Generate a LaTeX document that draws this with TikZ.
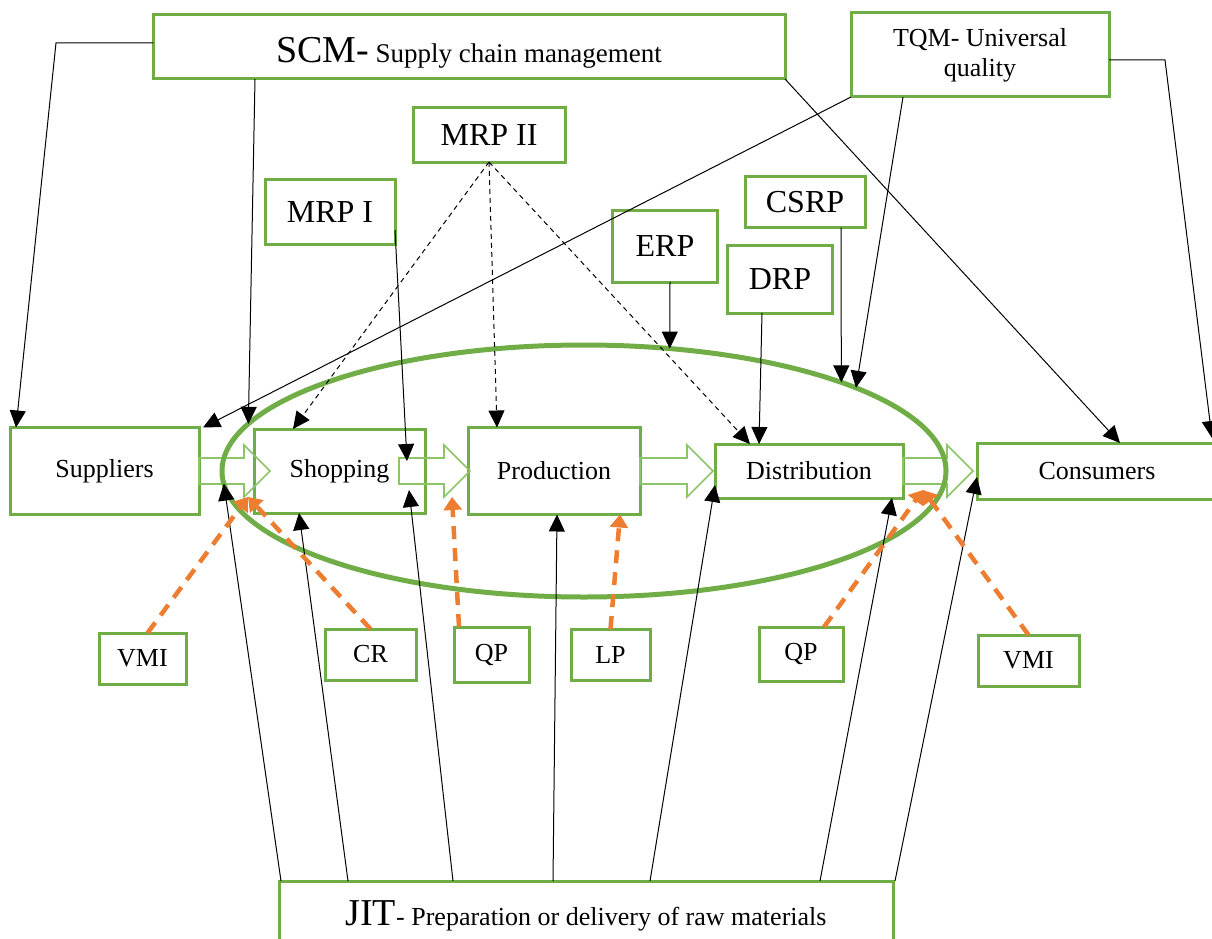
\documentclass[tikz,border=0pt]{standalone}
\usepackage{fontspec}
\setmainfont{Liberation Serif}
\usetikzlibrary{positioning,arrows.meta,shapes.geometric}
\definecolor{boxgreen}{RGB}{112,173,71}
\definecolor{flowgreen}{RGB}{140,196,104}
\definecolor{hintorange}{RGB}{237,125,49}

\begin{document}
\begin{tikzpicture}[x=1pt,y=-1pt,
  box/.style={draw=boxgreen,line width=3pt,align=center,inner sep=0pt,outer sep=0pt,font=\fontsize{26}{30}\selectfont},
  bigbox/.style={box,font=\fontsize{32}{36}\selectfont},
  arr/.style={-{Triangle[length=17pt,width=16pt]},line width=1pt},
  dasharr/.style={arr,dash pattern=on 5pt off 4pt},
  hint/.style={-{Triangle[length=13pt,width=18pt]},draw=hintorange,line width=4.5pt,dash pattern=on 13pt off 9pt},
  flow/.style={draw=flowgreen,line width=1.6pt}]
\useasboundingbox (0,0) rectangle (1212,939);
\clip (0,0) rectangle (1212,939);

% top boxes
\node[box,minimum width=632pt,minimum height=64pt] (scm) at (469,47) {\raisebox{-3pt}[25pt][0pt]{{\fontsize{38}{40}\selectfont SCM-} {\fontsize{27}{30}\selectfont Supply chain management}}};
\node[box,minimum width=258pt,minimum height=84pt] (tqm) at (980,55) {TQM- Universal\\quality};
\node[bigbox,minimum width=152pt,minimum height=54pt] (mrpii) at (489,135) {MRP II};
\node[bigbox,minimum width=130pt,minimum height=65pt] (mrpi) at (330,212) {MRP I};
\node[bigbox,minimum width=105pt,minimum height=72pt] (erp) at (665,246) {ERP};
\node[bigbox,minimum width=120pt,minimum height=51pt] (csrp) at (805,202) {CSRP};
\node[bigbox,minimum width=105pt,minimum height=68pt] (drp) at (780,279) {DRP};

% chain
\node[box,minimum width=189pt,minimum height=87pt] (sup) at (104.5,471) {Suppliers};
\node[box,minimum width=171pt,minimum height=84pt,right=55pt of sup] (shop) {Shopping};
\node[box,minimum width=172pt,minimum height=87pt,right=43pt of shop] (prod) {Production};
\node[box,minimum width=188pt,minimum height=54pt,right=75pt of prod] (dist) {Distribution};
\node[box,minimum width=240pt,minimum height=56pt,right=74pt of dist] (cons) {Consumers};

% bottom boxes
\node[box,minimum width=87pt,minimum height=51pt] (vmia) at (142.5,658.5) {VMI};
\node[box,minimum width=91pt,minimum height=51pt] (cr) at (370.5,654.5) {CR};
\node[box,minimum width=75pt,minimum height=55pt] (qpa) at (491.5,654.5) {QP};
\node[box,minimum width=79pt,minimum height=51pt] (lp) at (610.5,654.5) {LP};
\node[box,minimum width=84pt,minimum height=54pt] (qpb) at (801,654) {QP};
\node[box,minimum width=101pt,minimum height=51pt] (vmib) at (1028.5,660.5) {VMI};
\node[box,minimum width=614pt,minimum height=70pt] (jit) at (586,916) {{\fontsize{38}{40}\selectfont JIT}- Preparation or delivery of raw materials};

\coordinate (hita) at (248,497);
\coordinate (hitb) at (452,497);
\coordinate (hitc) at (923,490);

% flow arrows
\draw[flow] ([yshift=13pt]sup.east) -- ++(45,0) -- ++(0,-13) -- ++(26,26) -- ++(-26,26) -- ++(0,-13) -- ++(-45,0) -- cycle;
\draw[flow] ([xshift=-26pt,yshift=13pt]shop.east) -- ++(45,0) -- ++(0,-13) -- ++(26,26) -- ++(-26,26) -- ++(0,-13) -- ++(-45,0) -- cycle;
\draw[flow] ([yshift=13pt]prod.east) -- ++(47,0) -- ++(0,-13) -- ++(26,26) -- ++(-26,26) -- ++(0,-13) -- ++(-47,0) -- cycle;
\draw[flow] ([yshift=13pt]dist.east) -- ++(44,0) -- ++(0,-13) -- ++(26,26) -- ++(-26,26) -- ++(0,-13) -- ++(-44,0) -- cycle;

\node[draw=boxgreen,line width=5pt,ellipse,inner sep=0pt,outer sep=0pt,minimum width=724pt,minimum height=252pt] (ring) at (584,471) {};

% SCM and TQM
\draw[arr] ([yshift=4pt]scm.west) -- ++(-97,0) -- ([xshift=6pt]sup.north west);
\draw[arr] ([xshift=102pt]scm.south west) -- (ring.172);
\draw[arr] (scm.south east) -- ([xshift=143pt]cons.north west);
\draw[arr] (tqm.south west) -- ([xshift=4pt]sup.north east);
\draw[arr] ([xshift=52pt]tqm.south west) -- (ring.17);
\draw[arr] ([yshift=-5pt]tqm.east) -- ++(56,0) -- ([xshift=-5pt,yshift=5pt]cons.north east);

% planning
\draw[dasharr] (mrpii.south) -- ([xshift=39pt]shop.north west);
\draw[dasharr] (mrpii.south) -- ([xshift=29pt]prod.north west);
\draw[dasharr] (mrpii.south) -- ([xshift=35pt]dist.north west);
\draw[arr] ([yshift=-18pt]mrpi.east) -- ([xshift=-18pt,yshift=10pt]shop.east);
\draw[arr] ([xshift=5pt]erp.south) -- (ring.55);
\draw[arr] ([xshift=-24pt]csrp.south east) -- (ring.19);
\draw[arr] ([xshift=-18pt]drp.south) -- ([xshift=44pt]dist.north west);

% JIT
\draw[arr] ([xshift=2pt]jit.north west) -- (ring.182);
\draw[arr] ([xshift=69pt]jit.north west) -- ([xshift=45pt]shop.south west);
\draw[arr] ([xshift=174pt]jit.north west) -- ([xshift=-16pt,yshift=-19pt]shop.east);
\draw[arr] ([xshift=274pt]jit.north west) -- ([xshift=3pt]prod.south);
\draw[arr] ([xshift=371pt]jit.north west) -- ([yshift=-14pt]dist.west);
\draw[arr] ([xshift=541pt]jit.north west) -- ([xshift=-11pt]dist.south east);
\draw[arr] ([xshift=2pt]jit.north east) -- ([yshift=-6pt]cons.west);

% orange hints
\draw[hint] ([xshift=5pt]vmia.north) -- (hita);
\draw[hint] (cr.north) -- (hita);
\draw[hint] ([xshift=5pt]qpa.north west) -- (hitb);
\draw[hint] (lp.north) -- ([xshift=-20pt]prod.south east);
\draw[hint] ([xshift=23pt]qpb.north) -- (hitc);
\draw[hint] (vmib.north) -- (hitc);
\end{tikzpicture}
\end{document}
